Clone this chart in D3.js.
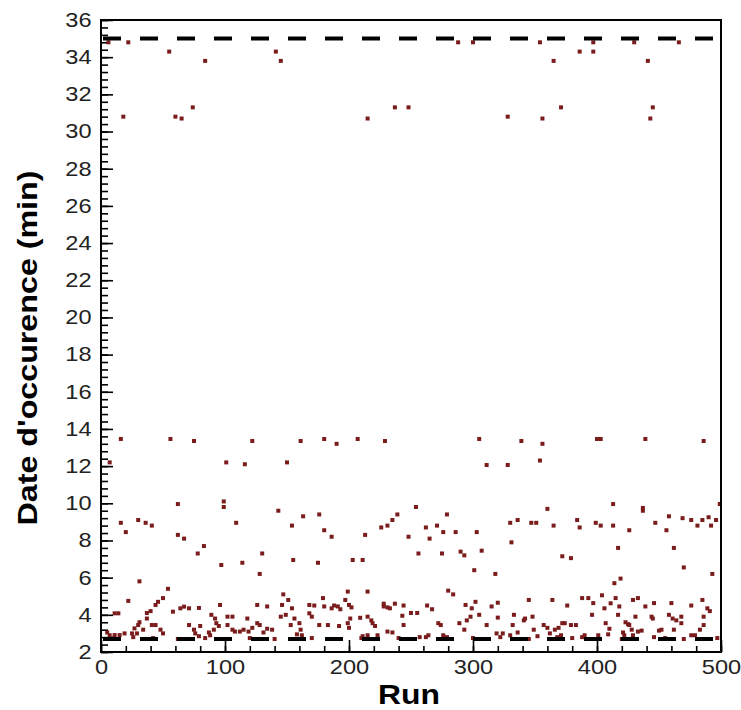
<!DOCTYPE html>
<html>
<head>
<meta charset="utf-8">
<script src="https://cdn.jsdelivr.net/npm/d3@7"></script>
<style>
  body { margin: 0; background: #fff; }
  svg { display: block; }
</style>
</head>
<body>
<div class="grafico"></div>
<script>
// runs 0-500, date d'occurence en minutes : [run, valeur]
var topBand = [
  [6,34.8],[22,34.8],[55,34.3],[84,33.8],[18,30.8],[60,30.8],[65,30.7],[74,31.3],
  [141,34.3],[145,33.8],[288,34.8],[300,34.8],[237,31.3],[248,31.3],[215,30.7],
  [354,34.8],[397,34.8],[386,34.3],[397,34.3],[365,33.8],[441,33.8],[430,34.8],
  [466,34.8],[328,30.8],[356,30.7],[371,31.3],[445,31.3],[443,30.7]
];

var midBand = [
  [16,13.46],[56,13.46],[75,13.35],[122,13.35],[161,13.35],[180,13.46],[190,13.2],[207,13.46],[229,13.35],
  [7,12.2],[101,12.2],[116,12.1],[150,12.2],
  [62,9.96],[99,10.1],[99,9.8],[143,9.6],[254,9.8],
  [16,8.95],[20,8.45],[30,9.1],[36,8.95],[41,8.8],[62,8.3],[67,8.1],[83,7.7],[109,8.95],[154,8.8],
  [163,9.3],[176,9.4],[180,8.55],[186,8.2],[213,8.3],[226,8.7],[231,8.8],[235,9.1],[239,9.4],[248,8.2],
  [305,13.46],[339,13.35],[356,13.2],[400,13.46],[403,13.46],[439,13.46],[486,13.35],
  [311,12.06],[328,12.06],[354,12.3],
  [279,9.4],[360,9.7],[413,9.96],[437,9.75],[437,9.6],[499,9.96],[458,9.3],
  [262,8.7],[271,8.8],[276,8.45],[286,8.45],[303,8.45],[265,8.1],[330,8.95],[336,9.1],[347,8.95],
  [351,8.95],[365,8.8],[331,7.9],[384,9.1],[386,8.7],[399,8.95],[403,8.8],[413,8.8],[426,8.55],
  [417,7.6],[447,8.95],[456,8.55],[462,7.6],[469,9.2],[476,9.1],[481,8.8],[485,9.1],[490,9.25],
  [492,8.8],[496,9.1],
  [78,7.3],[130,7.3],[256,7.3],[275,7.3],[290,7.4],[293,7.2],[307,7.45],[372,7.15],[379,7.05]
];

var lowBand = [
  [97,6.68],[114,6.8],[128,6.2],[155,6.95],[175,6.8],[203,6.95],[211,6.95],[31,5.8],[54,5.4],[22,4.75],
  [11,4.08],[14,4.08],[50,4.9],[46,4.7],[44,4.53],[58,4.17],[64,4.35],[67,4.44],[71,4.35],[79,4.37],
  [37,4.1],[40,4.2],[37,3.8],[31,3.6],[30,3.45],[27,3.27],[25,3.0],[19,3.0],[15,2.91],[11,2.91],
  [41,3.45],[44,3.45],[48,3.2],[50,3.0],[34,3.2],[29,3.0],[7,2.9],[5,3.05],[96,4.53],[89,4.0],
  [92,3.8],[93,3.55],[95,3.4],[71,3.45],[75,3.2],[80,3.4],[76,3.0],[79,2.85],[87,3.05],[88,2.9],
  [91,3.2],[102,3.9],[106,3.9],[102,3.45],[106,3.2],[108,3.1],[112,3.1],[115,3.2],[118,3.8],[119,3.1],
  [122,3.3],[126,3.55],[128,3.45],[131,3.05],[134,3.25],[138,3.2],[126,4.53],[134,4.45],[147,5.1],[151,4.8],
  [146,4.53],[154,4.35],[145,3.9],[149,4.0],[156,3.8],[160,3.55],[153,3.45],[161,3.2],[162,2.9],[158,2.95],
  [168,4.53],[172,4.5],[179,4.9],[180,4.45],[186,4.35],[188,4.5],[191,4.45],[199,5.25],[197,4.8],[200,4.53],
  [202,4.4],[193,4.3],[168,4.08],[170,3.9],[176,3.45],[183,3.45],[192,3.4],[199,3.55],[200,3.3],[201,3.8],
  [215,5.25],[209,3.84],[215,3.9],[218,3.7],[219,3.55],[221,3.4],[223,2.9],[215,2.9],[211,2.85],[228,4.6],
  [237,4.6],[228,4.45],[231,4.4],[233,4.35],[244,4.5],[243,3.95],[244,3.45],[231,3.1],[235,3.05],
  [10,2.75],[26,2.8],[42,2.75],[62,2.7],[84,2.75],[100,2.7],[120,2.75],[140,2.7],[170,2.75],[187,2.7],
  [210,2.75],[240,2.75],
  [250,4.1],[255,4.1],[263,4.5],[267,4.3],[280,5.3],[284,5.1],[301,6.4],[318,6.2],[470,6.55],[493,6.2],
  [414,5.7],[419,5.95],[272,3.55],[274,3.45],[264,2.9],[262,2.8],[276,2.9],[279,2.8],[289,3.55],[293,3.2],
  [295,3.7],[298,3.9],[294,4.53],[299,4.35],[302,4.7],[305,4.0],[311,3.45],[315,4.45],[320,4.65],[320,3.85],
  [324,3.0],[319,3.0],[322,2.8],[330,2.9],[332,3.45],[336,3.05],[333,4.0],[341,3.7],[342,3.8],[345,4.8],
  [348,3.9],[349,3.2],[352,2.85],[357,3.45],[360,3.3],[362,3.0],[364,4.8],[366,3.2],[369,3.3],[372,3.55],
  [376,4.5],[374,3.55],[379,3.45],[383,3.45],[371,2.9],[368,2.8],[388,4.9],[393,4.9],[397,4.63],[404,5.05],
  [396,4.0],[406,4.35],[407,3.55],[410,3.25],[409,2.95],[401,2.9],[390,2.9],[388,2.8],[411,4.62],[415,4.9],
  [418,4.45],[417,4.0],[423,3.6],[425,3.5],[426,3.45],[428,3.2],[433,3.1],[436,3.15],[429,2.9],[422,2.9],
  [421,3.05],[429,4.8],[433,4.9],[439,4.45],[431,3.9],[446,4.63],[444,3.9],[445,3.8],[450,3.15],[452,3.2],
  [446,2.8],[460,4.63],[458,4.0],[461,3.8],[464,3.7],[468,3.9],[468,3.55],[462,3.2],[476,4.5],[485,4.8],
  [486,3.9],[489,4.35],[491,4.2],[486,3.45],[483,3.2],[479,2.9],[476,2.9],[257,2.8],[300,2.75],[345,2.7],
  [380,2.75],[420,2.7],[455,2.75],[470,2.7],[497,2.75]
];

// limites en pointillé
var limites = [35, 2.7];

var xMajor = [0, 100, 200, 300, 400, 500];
var xMinor = d3.range(0, 501, 20);
var yMajor = d3.range(2, 37, 2);
var yMinor = d3.range(0, 86).map(function(i){ return +(2 + i * 0.4).toFixed(1); });

var points = topBand.concat(midBand, lowBand);

var width = 741;
var height = 710;

var svg = d3.select(".grafico")
  .append("svg")
    .attr("width", width)
    .attr("height", height);

var x = d3.scaleLinear().domain([0, 500]).range([101, 721]);
var y = d3.scaleLinear().domain([2, 36]).range([652, 20]);

var font = "'Liberation Sans', Arial, sans-serif";

// ticks mineurs
svg.append("g")
  .attr("transform", "translate(0," + y(2) + ")")
  .call(d3.axisBottom(x).tickValues(xMinor).tickSize(-6).tickFormat(""))
  .call(function(g){ g.select(".domain").remove(); });

svg.append("g")
  .attr("transform", "translate(" + x(0) + ",0)")
  .call(d3.axisLeft(y).tickValues(yMinor).tickSize(-7).tickFormat(""))
  .call(function(g){ g.select(".domain").remove(); });

// ticks majeurs avec labels
var xAxis = svg.append("g")
  .attr("transform", "translate(0," + y(2) + ")")
  .call(d3.axisBottom(x).tickValues(xMajor).tickSizeInner(-12).tickSizeOuter(0).tickPadding(8))
  .call(function(g){ g.select(".domain").remove(); });

var yAxis = svg.append("g")
  .attr("transform", "translate(" + x(0) + ",0)")
  .call(d3.axisLeft(y).tickValues(yMajor).tickSizeInner(-12).tickSizeOuter(0).tickPadding(8))
  .call(function(g){ g.select(".domain").remove(); });

svg.selectAll(".tick line").attr("stroke", "#000").attr("stroke-width", 1.6);

[xAxis, yAxis].forEach(function(a){
  a.selectAll("text")
    .style("font-family", font)
    .style("font-size", "20px")
    .attr("fill", "#222")
    .attr("transform", "scale(1.18,1)");
});

// points
svg.append("g")
  .selectAll("rect")
  .data(points)
  .enter()
    .append("rect")
    .attr("x", function(d){ return x(d[0]) - 2; })
    .attr("y", function(d){ return y(d[1]) - 2; })
    .attr("width", 4)
    .attr("height", 4)
    .attr("fill", "#7a1c1c");

// lignes pointillées
svg.append("g")
  .selectAll("line")
  .data(limites)
  .enter()
    .append("line")
    .attr("x1", x(0) + 2)
    .attr("x2", x(500))
    .attr("y1", function(d){ return y(d); })
    .attr("y2", function(d){ return y(d); })
    .attr("stroke", "#000")
    .attr("stroke-width", 4)
    .attr("stroke-dasharray", "18,19");

// cadre
svg.append("rect")
  .attr("x", x(0))
  .attr("y", y(36))
  .attr("width", x(500) - x(0))
  .attr("height", y(2) - y(36))
  .attr("fill", "none")
  .attr("stroke", "#000")
  .attr("stroke-width", 2);

// titres
svg.append("text")
  .attr("x", 409)
  .attr("y", 704)
  .attr("text-anchor", "middle")
  .style("font-family", font)
  .style("font-weight", "bold")
  .style("font-size", "28px")
  .attr("textLength", 62)
  .attr("lengthAdjust", "spacingAndGlyphs")
  .text("Run");

svg.append("text")
  .attr("transform", "translate(37,348) rotate(-90)")
  .attr("text-anchor", "middle")
  .style("font-family", font)
  .style("font-weight", "bold")
  .style("font-size", "27px")
  .attr("textLength", 355)
  .attr("lengthAdjust", "spacingAndGlyphs")
  .text("Date d'occurence (min)");
</script>
</body>
</html>
